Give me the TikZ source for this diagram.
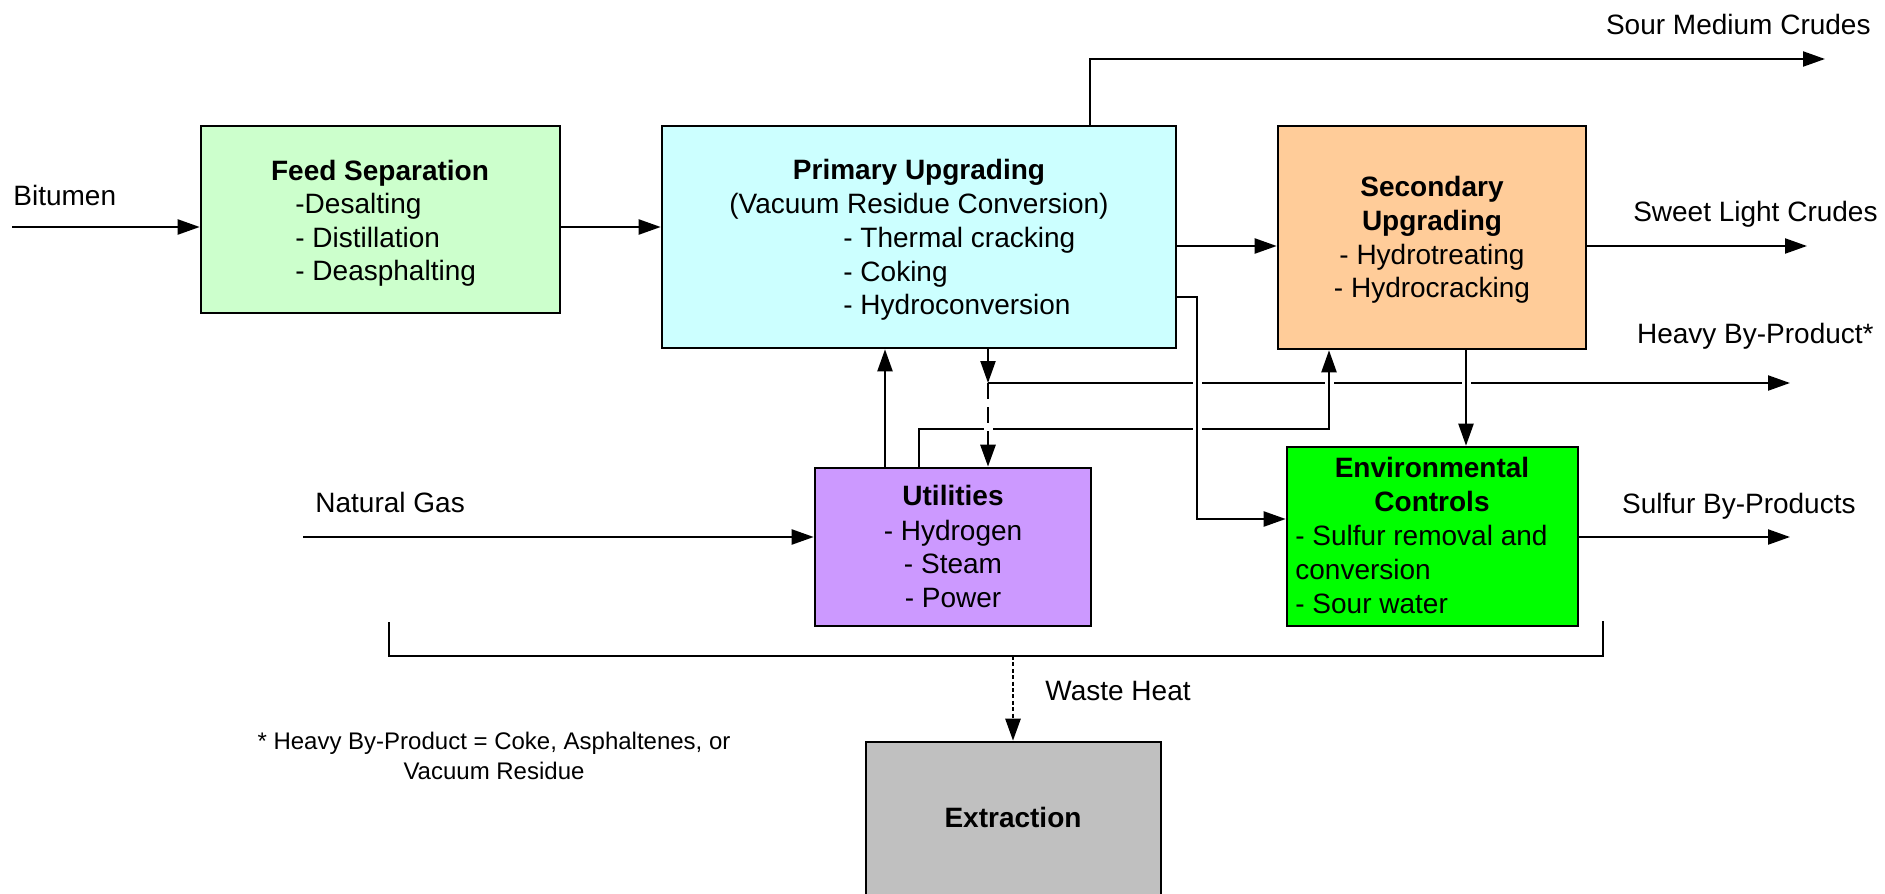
\documentclass[tikz,border=0pt]{standalone}
\usepackage{fontspec}
\setmainfont{Liberation Sans}
\usetikzlibrary{arrows.meta,fit}
\definecolor{cfeed}{HTML}{CCFFCC}
\definecolor{cprim}{HTML}{CCFFFF}
\definecolor{csec}{HTML}{FFCC99}
\definecolor{cutil}{HTML}{CC99FF}
\definecolor{cenv}{HTML}{00FF00}
\definecolor{cext}{HTML}{C0C0C0}
\begin{document}
\begin{tikzpicture}[x=0.5pt,y=-0.5pt,
 box/.style={draw=black, line width=1.3pt, inner sep=0pt},
 conn/.style={line width=1.1pt},
 arr/.style={conn, -{Triangle[length=11pt,width=7.5pt]}},
 lab/.style={inner sep=0pt, anchor=base, font=\fontsize{14}{17}\selectfont},
 labl/.style={lab, anchor=base west},
 labr/.style={lab, anchor=base east},
 ttl/.style={lab, font=\fontsize{14}{17}\selectfont\bfseries},
 note/.style={inner sep=0pt, anchor=base, font=\fontsize{12}{15}\selectfont},
 bridge/.style={draw=white, line width=4.5pt},
 dashline/.style={line width=1.4pt, dash pattern=on 8pt off 4pt},
 dotline/.style={line width=1.3pt, dash pattern=on 2pt off 1.2pt},
]
\useasboundingbox (0,0) rectangle (1885,894);
\clip (0,0) rectangle (1885,894);

% boxes
\node[box, fill=cfeed, fit={(201,126) (560,313)}] (feed) {};
\node[box, fill=cprim, fit={(662,126) (1176,348)}] (prim) {};
\node[box, fill=csec, fit={(1278,126) (1586,349)}] (sec) {};
\node[box, fill=cutil, fit={(815,468) (1091,626)}] (util) {};
\node[box, fill=cenv, fit={(1287,447) (1578,626)}] (env) {};
\node[box, fill=cext, fit={(866,742) (1161,940)}] (ext) {};

% box texts
\node[ttl] (feedT) at (380,180) {Feed Separation};
\node[labl] (feed1) at (295,213) {-Desalting};
\node[labl] (feed2) at (295,247) {- Distillation};
\node[labl] (feed3) at (295,280) {- Deasphalting};

\node[ttl] (primT) at (919,179) {Primary Upgrading};
\node[lab] (prim0) at (919,213) {(Vacuum Residue Conversion)};
\node[labl] (prim1) at (843,247) {- Thermal cracking};
\node[labl] (prim2) at (843,281) {- Coking};
\node[labl] (prim3) at (843,314) {- Hydroconversion};

\node[ttl] (secT1) at (1432,196) {Secondary};
\node[ttl] (secT2) at (1432,230) {Upgrading};
\node[lab] (sec1) at (1432,264) {- Hydrotreating};
\node[lab] (sec2) at (1432,297) {- Hydrocracking};

\node[ttl] (utilT) at (953,505) {Utilities};
\node[lab] (util1) at (953,540) {- Hydrogen};
\node[lab] (util2) at (953,573) {- Steam};
\node[lab] (util3) at (953,607) {- Power};

\node[ttl] (envT1) at (1432,477) {Environmental};
\node[ttl] (envT2) at (1432,511) {Controls};
\node[labl] (env1) at (1295,545) {- Sulfur removal and};
\node[labl] (env2) at (1295,579) {conversion};
\node[labl] (env3) at (1295,613) {- Sour water};

\node[ttl] (extT) at (1013,827) {Extraction};

% outside labels
\node[labl] (bitL) at (13,205) {Bitumen};
\node[labl] (ngL) at (315,512) {Natural Gas};
\node[labr] (sourL) at (1871,34) {Sour Medium Crudes};
\node[labr] (sweetL) at (1878,221) {Sweet Light Crudes};
\node[labr] (heavyL) at (1874,343) {Heavy By-Product*};
\node[labr] (sulfL) at (1856,513) {Sulfur By-Products};
\node[labl] (wasteL) at (1045,700) {Waste Heat};
\node[note] (foot1) at (494,749) {* Heavy By-Product = Coke, Asphaltenes, or};
\node[note] (foot2) at (494,779) {Vacuum Residue};

% coordinates
\coordinate (bitin) at (12,227);
\coordinate (sourtop) at (1090,59);
\coordinate (sourend) at (1825,59);
\coordinate (ps) at (1176,246);
\coordinate (sweetend) at (1807,246);
\coordinate (hv) at (988,383);
\coordinate (hvend) at (1790,383);
\coordinate (us1) at (919,429);
\coordinate (us2) at (1329,429);
\coordinate (up) at (885,468);
\coordinate (se) at (1466,400);
\coordinate (pe1) at (1197,297);
\coordinate (pe2) at (1197,519);
\coordinate (sulf) at (1790,537);
\coordinate (ngin) at (303,537);
\coordinate (bl) at (389,622);
\coordinate (bl2) at (389,656);
\coordinate (br2) at (1603,656);
\coordinate (br) at (1603,621);
\coordinate (wh) at (1013,656);

% connectors
\draw[arr] (bitin) -- (bitin -| feed.west);
\draw[arr] (feed.east |- bitin) -- (prim.west |- bitin);
\draw[arr] (prim.north -| sourtop) -- (sourtop) -- (sourend);
\draw[arr] (prim.east |- ps) -- (sec.west |- ps);
\draw[arr] (sec.east |- sweetend) -- (sweetend);

\draw[arr] (hv) -- (hvend);
\draw[bridge] (1329,375) -- (1329,391);
\draw[bridge] (1466,375) -- (1466,391);
\draw[bridge] (1197,375) -- (1197,391);
\draw[arr] (prim.south -| hv) -- (hv);

\draw[arr] (util.north -| us1) -- (us1) -- (us2) -- (sec.south -| us2);
\draw[bridge] (1197,421) -- (1197,437);
\draw[bridge] (988,421) -- (988,437);
\draw[arr, dashline] (hv) -- (util.north -| hv);
\draw[arr] (util.north -| up) -- (prim.south -| up);
\draw[arr] (sec.south -| se) -- (env.north -| se);
\draw[arr] (prim.east |- pe1) -- (pe1) -- (pe2) -- (env.west |- pe2);

\draw[arr] (env.east |- sulf) -- (sulf);
\draw[arr] (ngin) -- (util.west |- ngin);
\draw[conn] (bl) -- (bl2) -- (br2) -- (br);
\draw[arr, dotline] (wh) -- (ext.north -| wh);
\end{tikzpicture}
\end{document}
